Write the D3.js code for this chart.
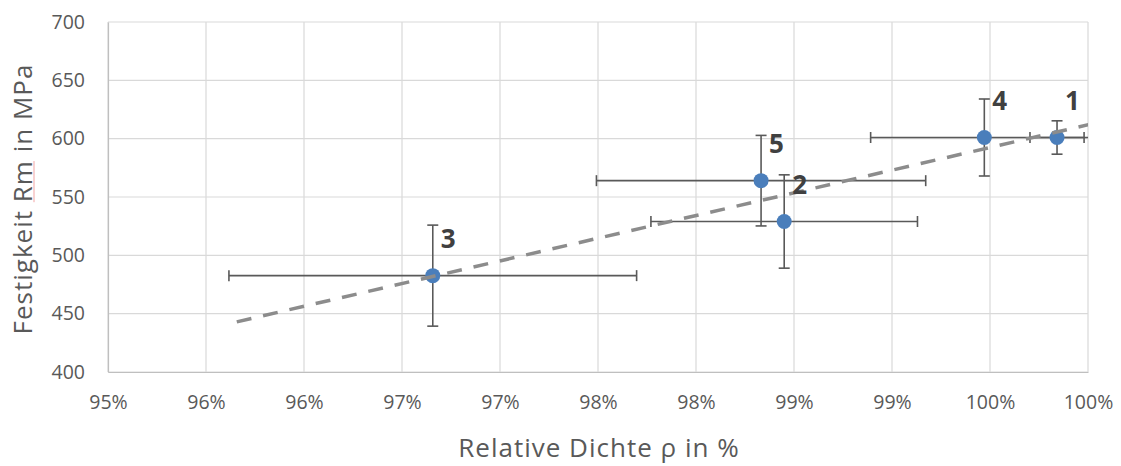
<!DOCTYPE html>
<html>
<head>
<meta charset="utf-8">
<script src="https://cdn.jsdelivr.net/npm/d3@7"></script>
<style>
  body { margin: 0; background: #fff; }
  text { font-family: "Open Sans", sans-serif; }
</style>
</head>
<body>
<div id="chart"></div>
<script>
// Data
var pointLabels = ["1", "2", "3", "4", "5"];
var density = [0.99842, 0.9845, 0.96657, 0.99471, 0.98332];
var strength = [601, 529, 482.6, 601, 564];
var densityErr = [0.00138, 0.0068, 0.0104, 0.0058, 0.0084];
var strengthErr = [14.3, 40, 43.3, 33, 38.8];

var xTickValues = [0.95, 0.955, 0.96, 0.965, 0.97, 0.975, 0.98, 0.985, 0.99, 0.995, 1.0];
var xTickLabels = ["95%", "96%", "96%", "97%", "97%", "98%", "98%", "99%", "99%", "100%", "100%"];
var yTickValues = [400, 450, 500, 550, 600, 650, 700];

// SVG area
var svgWidth = 1121;
var svgHeight = 466;

var margin = { top: 22, right: 33, bottom: 94, left: 108 };
var chartWidth = svgWidth - margin.left - margin.right;
var chartHeight = svgHeight - margin.top - margin.bottom;

var svg = d3.select("#chart")
    .append("svg")
    .attr("width", svgWidth)
    .attr("height", svgHeight);

var chartGroup = svg.append("g")
    .attr("transform", `translate(${margin.left}, ${margin.top})`);

svg.append("defs").append("clipPath")
    .attr("id", "plotClip")
    .append("rect")
    .attr("x", 0).attr("y", 0)
    .attr("width", chartWidth).attr("height", chartHeight);

// Scales
var xScale = d3.scaleLinear().domain([0.95, 1.0]).range([0, chartWidth]);
var yScale = d3.scaleLinear().domain([400, 700]).range([chartHeight, 0]);

// Gridlines
chartGroup.append("g")
    .selectAll("line")
    .data(xTickValues)
    .enter()
    .append("line")
    .attr("x1", d => xScale(d)).attr("x2", d => xScale(d))
    .attr("y1", 0).attr("y2", chartHeight)
    .attr("stroke", "#d9d9d9")
    .attr("stroke-width", 1.2);

chartGroup.append("g")
    .selectAll("line")
    .data(yTickValues)
    .enter()
    .append("line")
    .attr("x1", 0).attr("x2", chartWidth)
    .attr("y1", d => yScale(d)).attr("y2", d => yScale(d))
    .attr("stroke", "#d9d9d9")
    .attr("stroke-width", 1.2);

// Axes
var bottomAxis = d3.axisBottom(xScale)
    .tickValues(xTickValues)
    .tickFormat((d, i) => xTickLabels[i])
    .tickSize(0)
    .tickPadding(23);
var leftAxis = d3.axisLeft(yScale)
    .tickValues(yTickValues)
    .tickSize(0)
    .tickPadding(23);

var xAxisG = chartGroup.append("g")
    .attr("transform", "translate(0, " + chartHeight + ")")
    .call(bottomAxis);
var yAxisG = chartGroup.append("g").call(leftAxis);

[xAxisG, yAxisG].forEach(function (g) {
    g.select(".domain").attr("stroke", "#bfbfbf").attr("stroke-width", 1.2);
    g.selectAll("text")
        .attr("fill", "#595959")
        .style("font-size", "19.5px");
});

// Axis titles
svg.append("text")
    .attr("x", 599)
    .attr("y", 457)
    .attr("text-anchor", "middle")
    .attr("fill", "#595959")
    .style("font-size", "26px")
    .style("letter-spacing", "1px")
    .text("Relative Dichte ρ in %");

var yTitle = svg.append("text")
    .attr("transform", `translate(32, ${margin.top + chartHeight / 2 + 2}) rotate(-90)`)
    .attr("text-anchor", "middle")
    .attr("fill", "#595959")
    .style("font-size", "26px")
    .style("letter-spacing", "1px")
    .text("Festigkeit Rm in MPa");

// spell-check underline below "Rm"
var yTitleNode = yTitle.node();
var fullLen = yTitleNode.getComputedTextLength();
var startRm = yTitleNode.getSubStringLength(0, 11);
var lenRm = yTitleNode.getSubStringLength(11, 2);
svg.append("line")
    .attr("transform", `translate(32, ${margin.top + chartHeight / 2 + 2}) rotate(-90)`)
    .attr("x1", -fullLen / 2 + startRm)
    .attr("x2", -fullLen / 2 + startRm + lenRm - 1)
    .attr("y1", 2).attr("y2", 2)
    .attr("stroke", "#f2a5a5")
    .attr("stroke-width", 1);

// Data rows
var data = pointLabels.map(function (label, i) {
    return {
        label: label,
        x: density[i],
        y: strength[i],
        xe: densityErr[i],
        ye: strengthErr[i]
    };
});

// Error bars
var errGroup = chartGroup.append("g").attr("clip-path", "url(#plotClip)");
var errColor = "#595959";
var cap = 5.5;

data.forEach(function (d) {
    var cx = xScale(d.x), cy = yScale(d.y);
    var xl = xScale(d.x - d.xe), xr = xScale(d.x + d.xe);
    var yt = yScale(d.y + d.ye), yb = yScale(d.y - d.ye);

    errGroup.append("line")
        .attr("x1", xl).attr("x2", xr).attr("y1", cy).attr("y2", cy)
        .attr("stroke", errColor).attr("stroke-width", 1.6);
    errGroup.append("line")
        .attr("x1", cx).attr("x2", cx).attr("y1", yt).attr("y2", yb)
        .attr("stroke", errColor).attr("stroke-width", 1.6);

    [xl, xr].forEach(function (x) {
        if (x <= chartWidth + 0.5) {
            errGroup.append("line")
                .attr("x1", x).attr("x2", x).attr("y1", cy - cap).attr("y2", cy + cap)
                .attr("stroke", errColor).attr("stroke-width", 1.6);
        }
    });
    [yt, yb].forEach(function (y) {
        errGroup.append("line")
            .attr("x1", cx - cap).attr("x2", cx + cap).attr("y1", y).attr("y2", y)
            .attr("stroke", errColor).attr("stroke-width", 1.6);
    });
});

// Points
chartGroup.selectAll("circle")
    .data(data)
    .enter()
    .append("circle")
    .attr("cx", d => xScale(d.x))
    .attr("cy", d => yScale(d.y))
    .attr("r", 7.5)
    .attr("fill", "#4a7ebb");

// Linear trend line (least squares), backward forecast 0.01
var meanX = d3.mean(density);
var meanY = d3.mean(strength);
var sxy = d3.sum(density, (x, i) => (x - meanX) * (strength[i] - meanY));
var sxx = d3.sum(density, x => (x - meanX) * (x - meanX));
var slope = sxy / sxx;
var intercept = meanY - slope * meanX;
var trendX = [d3.min(density) - 0.01, d3.max(density) + 0.01];

chartGroup.append("g")
    .attr("clip-path", "url(#plotClip)")
    .append("line")
    .attr("x1", xScale(trendX[0]))
    .attr("y1", yScale(slope * trendX[0] + intercept))
    .attr("x2", xScale(trendX[1]))
    .attr("y2", yScale(slope * trendX[1] + intercept))
    .attr("stroke", "#8c8c8c")
    .attr("stroke-width", 3.5)
    .attr("stroke-dasharray", "15,12");

// Point labels
chartGroup.selectAll("text.pt")
    .data(data)
    .enter()
    .append("text")
    .attr("class", "pt")
    .attr("x", d => xScale(d.x) + 8)
    .attr("y", d => yScale(d.y) - 28)
    .attr("fill", "#404040")
    .style("font-size", "26px")
    .style("font-weight", "bold")
    .text(d => d.label);
</script>
</body>
</html>
